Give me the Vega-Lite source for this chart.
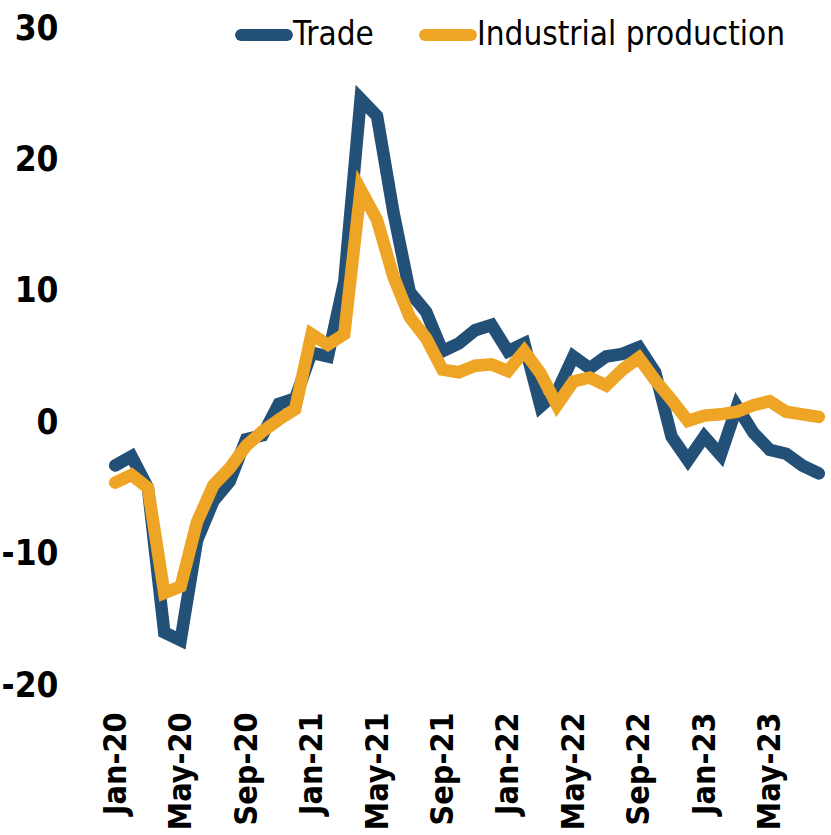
{
  "$schema": "https://vega.github.io/schema/vega-lite/v6.json",
  "width": 720,
  "height": 657,
  "autosize": {"type": "none"},
  "padding": {"left": 107, "top": 28, "right": 4, "bottom": 150},
  "background": "white",
  "config": {"view": {"stroke": null}},
  "datasets": {
    "series": [
      {"month": "Jan-20", "series": "Trade", "value": -3.3},
      {"month": "Feb-20", "series": "Trade", "value": -2.6},
      {"month": "Mar-20", "series": "Trade", "value": -5.0},
      {"month": "Apr-20", "series": "Trade", "value": -16.0},
      {"month": "May-20", "series": "Trade", "value": -16.6},
      {"month": "Jun-20", "series": "Trade", "value": -9.0},
      {"month": "Jul-20", "series": "Trade", "value": -6.0},
      {"month": "Aug-20", "series": "Trade", "value": -4.5},
      {"month": "Sep-20", "series": "Trade", "value": -1.3},
      {"month": "Oct-20", "series": "Trade", "value": -1.0},
      {"month": "Nov-20", "series": "Trade", "value": 1.4},
      {"month": "Dec-20", "series": "Trade", "value": 1.8},
      {"month": "Jan-21", "series": "Trade", "value": 5.3},
      {"month": "Feb-21", "series": "Trade", "value": 5.0},
      {"month": "Mar-21", "series": "Trade", "value": 10.7},
      {"month": "Apr-21", "series": "Trade", "value": 24.6},
      {"month": "May-21", "series": "Trade", "value": 23.3},
      {"month": "Jun-21", "series": "Trade", "value": 16.0},
      {"month": "Jul-21", "series": "Trade", "value": 9.9},
      {"month": "Aug-21", "series": "Trade", "value": 8.4},
      {"month": "Sep-21", "series": "Trade", "value": 5.4},
      {"month": "Oct-21", "series": "Trade", "value": 6.0},
      {"month": "Nov-21", "series": "Trade", "value": 7.0},
      {"month": "Dec-21", "series": "Trade", "value": 7.4},
      {"month": "Jan-22", "series": "Trade", "value": 5.4},
      {"month": "Feb-22", "series": "Trade", "value": 6.0},
      {"month": "Mar-22", "series": "Trade", "value": 1.2},
      {"month": "Apr-22", "series": "Trade", "value": 2.3},
      {"month": "May-22", "series": "Trade", "value": 5.0},
      {"month": "Jun-22", "series": "Trade", "value": 4.1},
      {"month": "Jul-22", "series": "Trade", "value": 5.0},
      {"month": "Aug-22", "series": "Trade", "value": 5.2},
      {"month": "Sep-22", "series": "Trade", "value": 5.7},
      {"month": "Oct-22", "series": "Trade", "value": 3.8},
      {"month": "Nov-22", "series": "Trade", "value": -1.1},
      {"month": "Dec-22", "series": "Trade", "value": -2.9},
      {"month": "Jan-23", "series": "Trade", "value": -1.1},
      {"month": "Feb-23", "series": "Trade", "value": -2.5},
      {"month": "Mar-23", "series": "Trade", "value": 1.2},
      {"month": "Apr-23", "series": "Trade", "value": -0.8},
      {"month": "May-23", "series": "Trade", "value": -2.1},
      {"month": "Jun-23", "series": "Trade", "value": -2.4},
      {"month": "Jul-23", "series": "Trade", "value": -3.3},
      {"month": "Aug-23", "series": "Trade", "value": -3.9},
      {"month": "Jan-20", "series": "Industrial production", "value": -4.6},
      {"month": "Feb-20", "series": "Industrial production", "value": -4.0},
      {"month": "Mar-20", "series": "Industrial production", "value": -5.0},
      {"month": "Apr-20", "series": "Industrial production", "value": -13.0},
      {"month": "May-20", "series": "Industrial production", "value": -12.5},
      {"month": "Jun-20", "series": "Industrial production", "value": -7.6},
      {"month": "Jul-20", "series": "Industrial production", "value": -4.8},
      {"month": "Aug-20", "series": "Industrial production", "value": -3.5},
      {"month": "Sep-20", "series": "Industrial production", "value": -1.8},
      {"month": "Oct-20", "series": "Industrial production", "value": -0.7},
      {"month": "Nov-20", "series": "Industrial production", "value": 0.2},
      {"month": "Dec-20", "series": "Industrial production", "value": 1.0},
      {"month": "Jan-21", "series": "Industrial production", "value": 6.7},
      {"month": "Feb-21", "series": "Industrial production", "value": 5.9},
      {"month": "Mar-21", "series": "Industrial production", "value": 6.7},
      {"month": "Apr-21", "series": "Industrial production", "value": 17.7},
      {"month": "May-21", "series": "Industrial production", "value": 15.4},
      {"month": "Jun-21", "series": "Industrial production", "value": 11.1},
      {"month": "Jul-21", "series": "Industrial production", "value": 8.0},
      {"month": "Aug-21", "series": "Industrial production", "value": 6.4},
      {"month": "Sep-21", "series": "Industrial production", "value": 4.0},
      {"month": "Oct-21", "series": "Industrial production", "value": 3.8},
      {"month": "Nov-21", "series": "Industrial production", "value": 4.3},
      {"month": "Dec-21", "series": "Industrial production", "value": 4.4},
      {"month": "Jan-22", "series": "Industrial production", "value": 3.9},
      {"month": "Feb-22", "series": "Industrial production", "value": 5.4},
      {"month": "Mar-22", "series": "Industrial production", "value": 3.7},
      {"month": "Apr-22", "series": "Industrial production", "value": 1.3},
      {"month": "May-22", "series": "Industrial production", "value": 3.1},
      {"month": "Jun-22", "series": "Industrial production", "value": 3.4},
      {"month": "Jul-22", "series": "Industrial production", "value": 2.8},
      {"month": "Aug-22", "series": "Industrial production", "value": 4.0},
      {"month": "Sep-22", "series": "Industrial production", "value": 4.9},
      {"month": "Oct-22", "series": "Industrial production", "value": 3.2},
      {"month": "Nov-22", "series": "Industrial production", "value": 1.7},
      {"month": "Dec-22", "series": "Industrial production", "value": 0.1},
      {"month": "Jan-23", "series": "Industrial production", "value": 0.5},
      {"month": "Feb-23", "series": "Industrial production", "value": 0.6},
      {"month": "Mar-23", "series": "Industrial production", "value": 0.8},
      {"month": "Apr-23", "series": "Industrial production", "value": 1.3},
      {"month": "May-23", "series": "Industrial production", "value": 1.6},
      {"month": "Jun-23", "series": "Industrial production", "value": 0.8},
      {"month": "Jul-23", "series": "Industrial production", "value": 0.6},
      {"month": "Aug-23", "series": "Industrial production", "value": 0.4}
    ]
  },
  "layer": [
    {
      "mark": {"type": "rule", "color": "black", "strokeWidth": 1.5},
      "encoding": {"y": {"datum": 0, "type": "quantitative", "scale": {"domain": [-20, 30], "nice": false}}}
    },
    {
      "data": {"name": "series"},
      "mark": {"type": "line", "strokeWidth": 12.5, "strokeCap": "round", "strokeJoin": "miter"},
      "encoding": {
        "x": {
          "field": "month", "type": "ordinal", "sort": null,
          "scale": {"type": "point", "padding": 0.5},
          "axis": {
            "title": null, "domain": false, "ticks": false, "grid": false,
            "values": ["Jan-20", "May-20", "Sep-20", "Jan-21", "May-21", "Sep-21", "Jan-22", "May-22", "Sep-22", "Jan-23", "May-23"],
            "labelAngle": -90, "labelPadding": 27, "labelFont": "DejaVu Sans Condensed, Liberation Sans, sans-serif", "labelFontWeight": "bold",
            "labelFontSize": 32, "labelColor": "black", "labelOverlap": false
          }
        },
        "y": {
          "field": "value", "type": "quantitative",
          "scale": {"domain": [-20, 30], "nice": false},
          "axis": {
            "title": null, "domain": false, "ticks": false, "grid": false,
            "values": [-20, -10, 0, 10, 20, 30],
            "labelExpr": "'' + datum.value",
            "labelPadding": 49, "labelFont": "DejaVu Sans Condensed, Liberation Sans, sans-serif", "labelFontWeight": "bold",
            "labelFontSize": 35, "labelColor": "black"
          }
        },
        "color": {
          "field": "series", "type": "nominal",
          "scale": {"domain": ["Trade", "Industrial production"], "range": ["#235077", "#EEA425"]},
          "legend": {
            "title": null, "orient": "none", "direction": "horizontal",
            "legendX": 128, "legendY": -22,
            "symbolType": "stroke", "symbolStrokeWidth": 12, "symbolSize": 2100,
            "labelFont": "DejaVu Sans Condensed, Liberation Sans, sans-serif", "labelFontSize": 33, "labelColor": "black",
            "labelOffset": 0, "columnPadding": 27,
            "labelLimit": 400,
            "encode": {"symbols": {"update": {"strokeCap": {"value": "round"}}}}
          }
        }
      }
    }
  ]
}
